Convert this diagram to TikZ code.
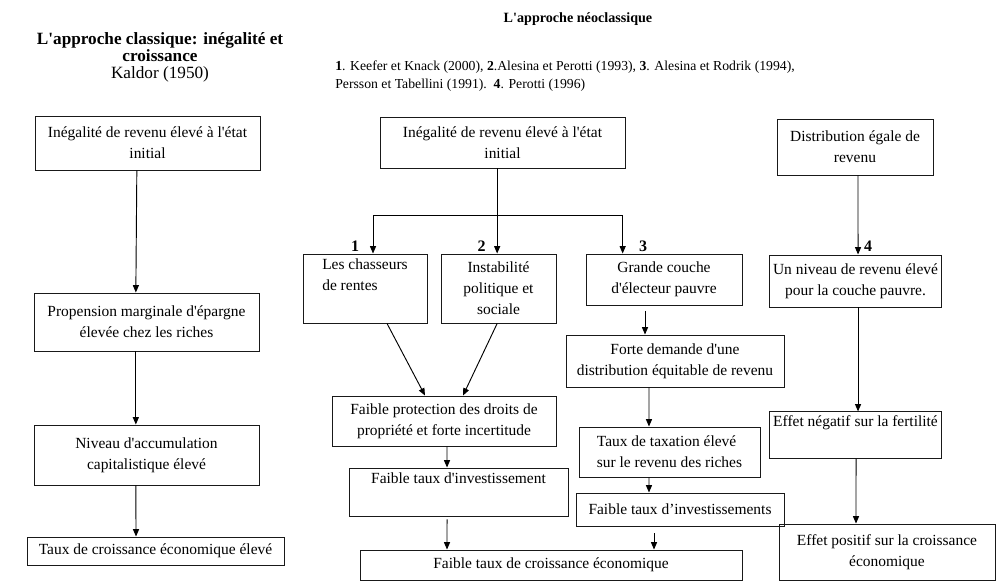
\documentclass[tikz,border=0pt]{standalone}
\usepackage{fontspec}
\newfontfamily\diagfont{Liberation Serif}
\usetikzlibrary{arrows.meta}
\newcommand{\px}{0.75pt}
\tikzset{
	>={Triangle[length=5.5pt,width=4.5pt]},
	flowbox/.style={rectangle, draw=black!90, line width=0.7pt, align=center, inner sep=3pt, font=\diagfont\fontsize{11.6}{15.75}\selectfont},
	leftbox/.style={flowbox, align=left},
	numlabel/.style={inner sep=0pt, font=\diagfont\fontsize{12}{12}\selectfont\bfseries},
	heading/.style={inner sep=0pt, align=center},
	link/.style={->, line width=0.7pt, black}
}

\begin{document}
\begin{tikzpicture}[x=\px, y=-\px]
	\useasboundingbox (0,0) rectangle (1000,585);

	% --- Headings ---
	\node[heading, font=\diagfont\fontsize{12.9}{12.75}\selectfont] (titlecl) at (160,57) {\textbf{L'approche classique: inégalité et}\\\textbf{croissance}\\Kaldor (1950)};
	\node[heading, font=\diagfont\fontsize{10.6}{12}\selectfont\bfseries] (titleneo) at (578,19) {L'approche néoclassique};
	\node[heading, anchor=north west, align=left, font=\diagfont\fontsize{10.3}{13.5}\selectfont] (refs) at (335,61) {\textbf{1}. Keefer et Knack (2000), \textbf{2}.Alesina et Perotti (1993), \textbf{3}. Alesina et Rodrik (1994),\\Persson et Tabellini (1991).~~\textbf{4}. Perotti (1996)};

	% --- Classical column ---
	\node[flowbox, minimum width=225*\px, minimum height=54*\px] (cl1) at (147.5,143) {Inégalité de revenu élevé à l'état\\initial};
	\node[flowbox, minimum width=225*\px, minimum height=58*\px] (cl2) at (146.5,322) {Propension marginale d'épargne\\élevée chez les riches};
	\node[flowbox, minimum width=225*\px, minimum height=60*\px] (cl3) at (146.5,455) {Niveau d'accumulation\\capitalistique élevé};
	\node[flowbox, minimum width=257*\px, minimum height=28*\px] (cl4) at (155.5,551) {Taux de croissance économique élevé};

	% --- Neoclassical: channels 1, 2, 3 ---
	\node[flowbox, minimum width=245*\px, minimum height=51*\px] (nc) at (502.5,142.5) {Inégalité de revenu élevé à l'état\\initial};
	\coordinate (split) at (497,215);

	\node[leftbox, minimum width=124*\px, minimum height=69*\px] (ch1) at (365,288.5) {Les chasseurs\\de rentes\\\strut};
	\node[flowbox, minimum width=115*\px, minimum height=69*\px] (ch2) at (498.5,288.5) {Instabilité\\politique et\\sociale};
	\node[flowbox, minimum width=156*\px, minimum height=51*\px] (ch3) at (664,279.5) {Grande couche\\d'électeur pauvre};
	\node[numlabel] (num1) at (355,246.5) {1};
	\node[numlabel] (num2) at (481.5,246.5) {2};
	\node[numlabel] (num3) at (643,246.5) {3};

	\node[flowbox, minimum width=224*\px, minimum height=50*\px] (prot) at (444,421) {Faible protection des droits de\\propriété et forte incertitude};
	\node[flowbox, minimum width=219*\px, minimum height=48*\px] (inv) at (458.5,492) {Faible taux d'investissement\\\strut};

	\node[flowbox, minimum width=218*\px, minimum height=52*\px] (fd) at (675,361) {Forte demande d'une\\distribution équitable de revenu};
	\node[leftbox, minimum width=181*\px, minimum height=50*\px] (tx) at (669.5,452) {Taux de taxation élevé\\sur le revenu des riches};
	\node[flowbox, minimum width=208*\px, minimum height=33*\px] (fi3) at (680,509.5) {Faible taux d’investissements};

	\node[flowbox, minimum width=382*\px, minimum height=30*\px] (grow) at (551,565) {Faible taux de croissance économique};

	% --- Neoclassical: channel 4 ---
	\node[flowbox, minimum width=156*\px, minimum height=56*\px] (eq) at (855,147) {Distribution égale de\\revenu};
	\node[numlabel] (num4) at (868,246.5) {4};
	\node[flowbox, minimum width=167*\px, minimum height=52*\px] (hi) at (855.5,281) {Un niveau de revenu élevé\\pour la couche pauvre.};
	\node[leftbox, minimum width=165*\px, minimum height=46*\px] (fert) at (855.5,435) {Effet négatif sur la fertilité\\\strut};
	\node[flowbox, minimum width=216*\px, minimum height=56*\px] (pos) at (887,552) {Effet positif sur la croissance\\économique};

	% --- Connections ---
	\draw[link] ([xshift=-8pt]cl1.south) -- ([xshift=-8pt]cl2.north);
	\draw[link] ([xshift=-8pt]cl2.south) -- ([xshift=-8pt]cl3.north);
	\draw[link] ([xshift=-8pt]cl3.south) -- ([xshift=-14.6pt]cl4.north);

	\draw[link] ([xshift=-4pt]nc.south) -- ([xshift=-1pt]ch2.north);
	\draw[link] (split) -| ([xshift=6pt]ch1.north);
	\draw[link] (split) -| ([xshift=-31pt]ch3.north);

	\draw[link] ([xshift=16.5pt]ch1.south) -- ([xshift=-14.25pt]prot.north);
	\draw[link] ([xshift=-1pt]ch2.south) -- ([xshift=14.25pt]prot.north);
	\draw[link] ([xshift=2.25pt]prot.south) -- ([xshift=-8.6pt]inv.north);
	\draw[link] ([xshift=-8.6pt,yshift=-2.25pt]inv.south) -- ([xshift=-78pt]grow.north);

	\draw[link] ([xshift=-14.25pt,yshift=-4pt]ch3.south) -- ([xshift=-22.5pt]fd.north);
	\draw[link] ([xshift=-19.5pt]fd.south) -- ([xshift=-15.4pt]tx.north);
	\draw[link] ([xshift=-15.4pt]tx.south) -- ([xshift=-23.25pt]fi3.north);
	\draw[link] ([xshift=-19.5pt,yshift=-5.25pt]fi3.south) -- ([xshift=77.25pt]grow.north);

	\draw[link] ([xshift=2.25pt]eq.south) -- ([xshift=1.9pt]hi.north);
	\draw[link] ([xshift=1.9pt]hi.south) -- ([xshift=1.9pt]fert.north);
	\draw[link] ([xshift=0.4pt]fert.south) -- ([xshift=-23.25pt]pos.north);

\end{tikzpicture}
\end{document}
